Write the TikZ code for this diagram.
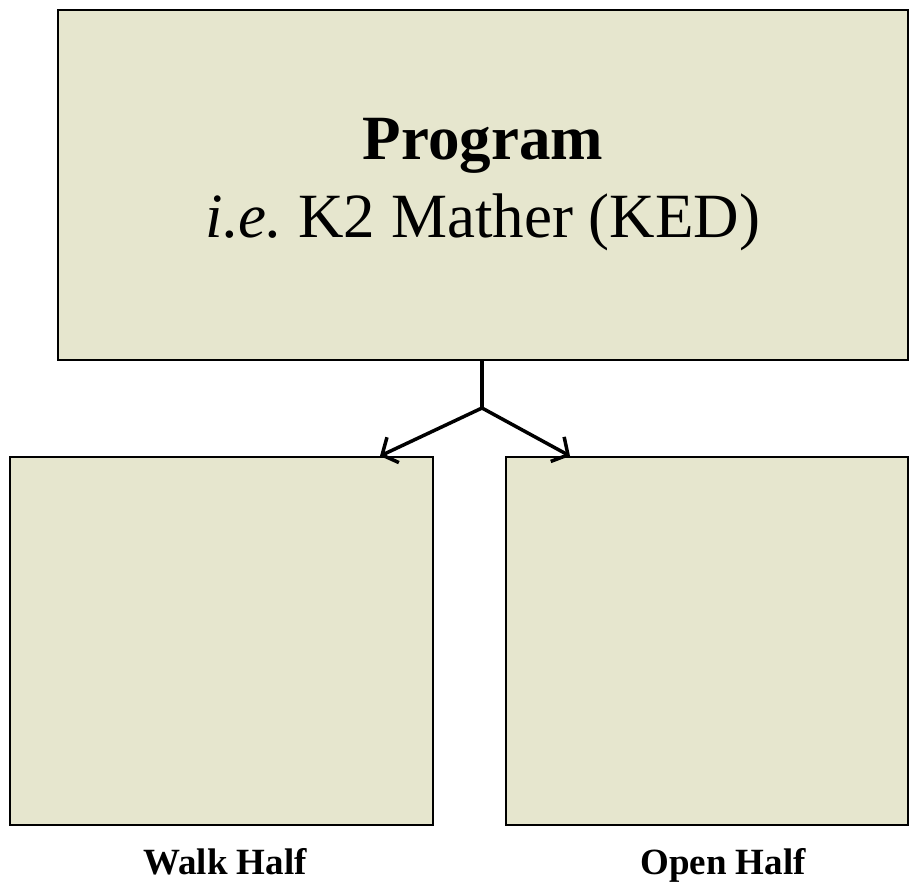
\documentclass[tikz,border=0pt]{standalone}
\usepackage{fontspec}
\setmainfont{Liberation Serif}
\usetikzlibrary{arrows.meta}
\definecolor{khakibox}{RGB}{230,230,206}

\begin{document}
\begin{tikzpicture}[x=1pt,y=-1pt,
        box/.style={draw=black,line width=2pt,fill=khakibox,inner sep=0pt},
        tag/.style={font=\fontsize{37}{40}\selectfont\bfseries,anchor=base},
        link/.style={line width=3.5pt,-{Straight Barb[length=12pt,width=28pt]}}
    ]
        \useasboundingbox (0,0) rectangle (910,881);
        \node[box,minimum width=850pt,minimum height=350pt,align=center,
              font=\fontsize{63}{80}\selectfont] (prog) at (483,185)
            {\textbf{Program}\\[-2pt]\textit{i.e.}~K2 Mather (KED)};
        \node[box,minimum width=423pt,minimum height=368pt] (walk) at (221.5,641) {};
        \node[box,minimum width=402pt,minimum height=368pt] (open) at (707,641) {};
        \node[tag] (walklbl) at (225,874) {Walk Half};
        \node[tag] (openlbl) at (723,874) {Open Half};
        \coordinate (split) at (482,408);
        \draw[line width=3.5pt] (prog.south -| split) -- (split);
        \draw[link] (split) -- (walk.north -| 380,0);
        \draw[link] (split) -- (open.north -| 570,0);
    \end{tikzpicture}
\end{document}
